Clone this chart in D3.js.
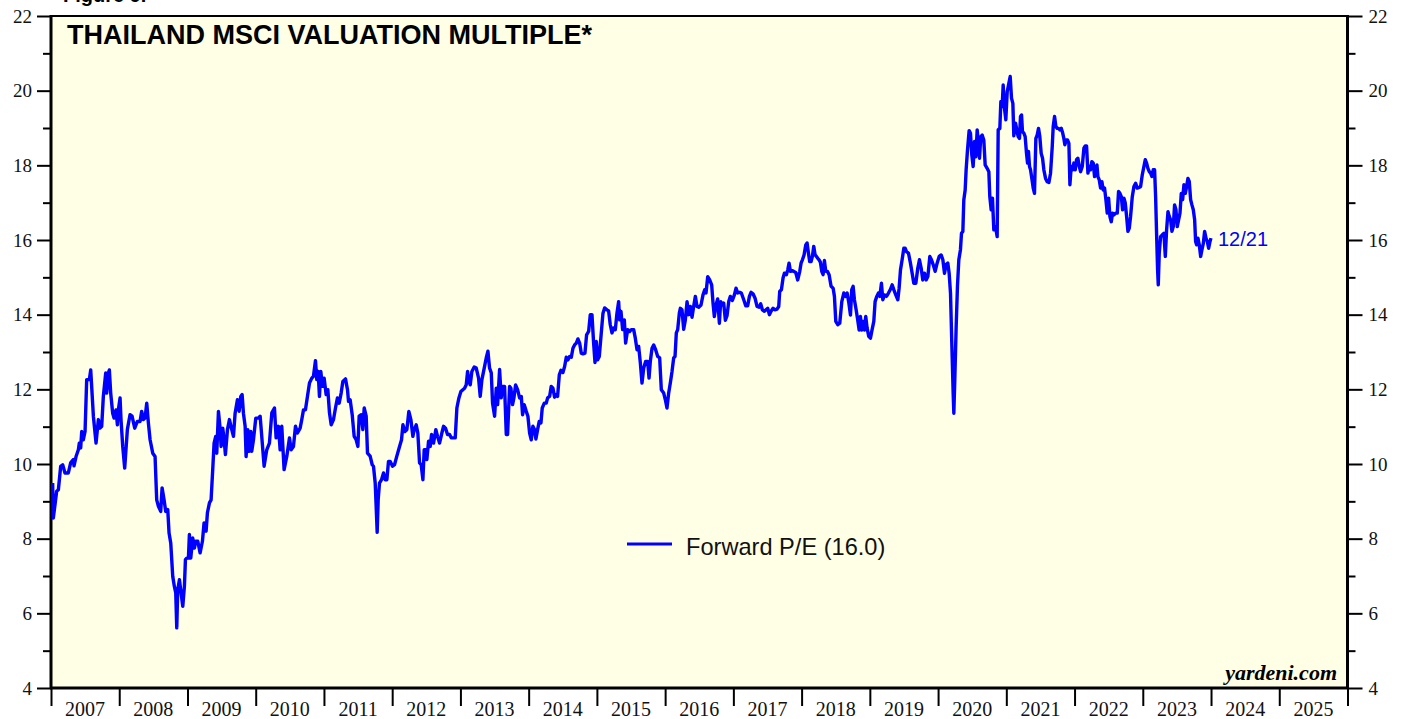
<!DOCTYPE html>
<html>
<head>
<meta charset="utf-8">
<script src="https://cdn.jsdelivr.net/npm/d3@7"></script>
<style>
  html, body { margin: 0; padding: 0; background: #ffffff; }
  svg { display: block; }
</style>
</head>
<body>
<div id="chart"></div>
<script>
// Thailand MSCI forward P/E, weekly-ish readings (decimal year, value)
const peReadings = [
  [2007.024, 9.49], [2007.034, 8.55], [2007.083, 9.27], [2007.108, 9.31], [2007.142, 9.94], [2007.171, 9.98],
  [2007.205, 9.76], [2007.254, 9.76], [2007.288, 10.03], [2007.327, 10.12], [2007.337, 9.95], [2007.367, 10.20],
  [2007.401, 10.38], [2007.415, 10.56], [2007.435, 10.43], [2007.450, 10.87], [2007.474, 10.65], [2007.499, 10.87],
  [2007.523, 12.26], [2007.562, 12.26], [2007.582, 12.52], [2007.596, 12.08], [2007.621, 11.28], [2007.660, 10.56],
  [2007.694, 11.19], [2007.718, 10.96], [2007.743, 11.01], [2007.767, 11.81], [2007.802, 12.44], [2007.816, 11.90],
  [2007.841, 12.44], [2007.855, 12.52], [2007.875, 11.90], [2007.904, 11.36], [2007.924, 11.23], [2007.953, 11.45],
  [2007.973, 11.05], [2007.987, 11.45], [2008.012, 11.77], [2008.026, 11.19], [2008.051, 10.47], [2008.080, 9.89],
  [2008.119, 10.92], [2008.158, 11.32], [2008.188, 11.28], [2008.227, 10.96], [2008.266, 11.14], [2008.305, 11.14],
  [2008.329, 11.41], [2008.354, 11.19], [2008.378, 11.23], [2008.403, 11.63], [2008.427, 11.10], [2008.452, 10.65],
  [2008.491, 10.29], [2008.525, 10.20], [2008.549, 9.04], [2008.574, 8.87], [2008.608, 8.73], [2008.628, 9.36],
  [2008.657, 9.04], [2008.681, 8.73], [2008.711, 8.78], [2008.730, 8.15], [2008.755, 7.88], [2008.784, 6.99],
  [2008.808, 6.72], [2008.828, 6.55], [2008.843, 5.61], [2008.857, 6.63], [2008.882, 6.90], [2008.906, 6.55],
  [2008.931, 6.19], [2008.955, 6.72], [2008.970, 7.44], [2008.989, 7.48], [2009.014, 7.48], [2009.028, 8.11],
  [2009.048, 7.48], [2009.077, 8.02], [2009.102, 7.75], [2009.121, 7.93], [2009.151, 7.93], [2009.185, 7.62],
  [2009.219, 7.93], [2009.243, 8.42], [2009.273, 8.20], [2009.292, 8.69], [2009.322, 8.96], [2009.346, 9.04],
  [2009.370, 9.85], [2009.390, 10.56], [2009.414, 10.74], [2009.429, 10.29], [2009.454, 11.41], [2009.478, 10.96],
  [2009.493, 10.47], [2009.517, 10.96], [2009.537, 10.65], [2009.556, 10.25], [2009.586, 10.92], [2009.615, 11.19],
  [2009.649, 10.92], [2009.674, 10.74], [2009.698, 11.36], [2009.732, 11.72], [2009.757, 11.41], [2009.781, 11.81],
  [2009.801, 11.86], [2009.820, 11.36], [2009.845, 11.01], [2009.859, 10.20], [2009.884, 10.92], [2009.903, 10.34],
  [2009.928, 10.87], [2009.942, 10.34], [2009.967, 10.65], [2010.001, 11.23], [2010.040, 11.23],
  [2010.065, 11.28], [2010.123, 9.94], [2010.162, 10.38], [2010.201, 10.56], [2010.236, 11.37], [2010.275, 11.50],
  [2010.299, 10.70], [2010.333, 11.01], [2010.358, 10.38], [2010.382, 11.01], [2010.416, 9.85], [2010.456, 10.21],
  [2010.495, 10.70], [2010.519, 10.38], [2010.553, 10.47], [2010.583, 11.01], [2010.612, 10.83], [2010.651, 10.96],
  [2010.675, 11.19], [2010.700, 11.45], [2010.729, 11.45], [2010.758, 11.81], [2010.788, 12.17], [2010.822, 12.30],
  [2010.846, 12.35], [2010.876, 12.77], [2010.895, 12.26], [2010.915, 12.48], [2010.934, 11.81], [2010.954, 12.48],
  [2010.978, 12.08], [2011.003, 12.30], [2011.032, 11.86], [2011.057, 11.99], [2011.081, 11.37], [2011.106, 11.05],
  [2011.140, 11.19], [2011.169, 11.50], [2011.198, 11.77], [2011.223, 11.63], [2011.252, 11.90], [2011.277, 12.21],
  [2011.316, 12.28], [2011.345, 11.99], [2011.360, 11.68], [2011.384, 11.72], [2011.414, 11.32], [2011.443, 10.74],
  [2011.472, 10.65], [2011.497, 10.47], [2011.516, 11.28], [2011.546, 11.32], [2011.570, 10.92], [2011.590, 11.50],
  [2011.619, 11.28], [2011.638, 10.29], [2011.677, 10.21], [2011.707, 9.98], [2011.726, 9.94], [2011.751, 9.49],
  [2011.765, 8.87], [2011.780, 8.17], [2011.795, 9.05], [2011.814, 9.49], [2011.844, 9.58], [2011.873, 9.76],
  [2011.897, 9.58], [2011.922, 9.58], [2011.946, 10.07], [2011.971, 10.07], [2012.005, 9.94], [2012.034, 9.98],
  [2012.068, 10.21], [2012.108, 10.47], [2012.137, 10.65], [2012.157, 11.05], [2012.186, 10.87], [2012.215, 10.92],
  [2012.244, 11.41], [2012.274, 11.19], [2012.303, 10.74], [2012.323, 10.92], [2012.352, 11.05], [2012.376, 10.83],
  [2012.401, 10.03], [2012.425, 9.98], [2012.450, 9.58], [2012.469, 10.38], [2012.494, 10.38], [2012.508, 10.12],
  [2012.533, 10.61], [2012.557, 10.47], [2012.577, 10.79], [2012.606, 10.56], [2012.640, 10.92], [2012.665, 10.74],
  [2012.694, 10.56], [2012.728, 10.83], [2012.753, 11.01], [2012.782, 10.96], [2012.811, 10.79], [2012.841, 10.79],
  [2012.865, 10.70], [2012.890, 10.70], [2012.924, 10.70], [2012.948, 11.50], [2012.978, 11.77], [2013.007, 11.94],
  [2013.036, 11.99], [2013.061, 12.03], [2013.085, 12.12], [2013.105, 12.48], [2013.124, 12.21],
  [2013.144, 12.12], [2013.168, 12.48], [2013.202, 12.60], [2013.232, 12.57], [2013.266, 12.30], [2013.290, 11.81],
  [2013.315, 12.26], [2013.349, 12.57], [2013.378, 12.84], [2013.403, 13.02], [2013.427, 12.57], [2013.452, 12.44],
  [2013.471, 11.63], [2013.501, 11.28], [2013.525, 12.03], [2013.545, 11.59], [2013.574, 12.53], [2013.598, 11.77],
  [2013.618, 12.08], [2013.647, 12.08], [2013.672, 10.79], [2013.691, 10.79], [2013.721, 12.08], [2013.740, 12.03],
  [2013.764, 11.59], [2013.784, 11.77], [2013.808, 12.12], [2013.838, 11.99], [2013.867, 11.77], [2013.892, 11.81],
  [2013.911, 11.32], [2013.935, 11.59], [2013.965, 11.41], [2013.989, 11.28], [2014.014, 10.83], [2014.038, 10.65],
  [2014.062, 11.01], [2014.087, 10.92], [2014.106, 10.67], [2014.131, 10.92], [2014.155, 11.14], [2014.180, 11.10],
  [2014.199, 11.50], [2014.229, 11.63], [2014.258, 11.63], [2014.278, 11.77], [2014.307, 11.81], [2014.331, 12.08],
  [2014.356, 12.03], [2014.380, 11.79], [2014.405, 11.86], [2014.424, 11.81], [2014.449, 12.39], [2014.473, 12.51],
  [2014.502, 12.45], [2014.527, 12.61], [2014.551, 12.86], [2014.576, 12.79], [2014.600, 12.88], [2014.625, 12.86],
  [2014.649, 13.10], [2014.673, 13.19], [2014.698, 13.24], [2014.722, 13.35], [2014.747, 13.24], [2014.771, 12.97],
  [2014.796, 12.95], [2014.825, 12.97], [2014.849, 13.46], [2014.879, 13.55], [2014.903, 14.00], [2014.928, 14.00],
  [2014.952, 13.24], [2014.972, 12.72], [2014.991, 13.28], [2015.011, 12.79], [2015.035, 12.88], [2015.060, 13.42],
  [2015.089, 14.04], [2015.113, 14.18], [2015.148, 14.13], [2015.172, 14.10], [2015.196, 13.73], [2015.221, 13.51],
  [2015.245, 13.64], [2015.270, 13.60], [2015.294, 14.04], [2015.319, 14.35], [2015.333, 13.86], [2015.353, 14.09],
  [2015.377, 13.60], [2015.402, 13.86], [2015.421, 13.24], [2015.451, 13.60], [2015.480, 13.55], [2015.505, 13.60],
  [2015.539, 13.60], [2015.563, 13.37], [2015.588, 13.06], [2015.612, 13.15], [2015.637, 12.70], [2015.661, 12.17],
  [2015.686, 12.57], [2015.715, 12.75], [2015.744, 12.75], [2015.764, 12.30], [2015.783, 12.75], [2015.808, 13.10],
  [2015.832, 13.19], [2015.861, 13.06], [2015.891, 12.88], [2015.920, 12.84], [2015.944, 11.99], [2015.979, 11.90],
  [2016.003, 11.72], [2016.027, 11.50], [2016.052, 11.90], [2016.076, 12.17], [2016.101, 12.48], [2016.125, 12.84],
  [2016.145, 12.88], [2016.164, 13.51], [2016.184, 13.60], [2016.208, 14.04],
  [2016.223, 14.17], [2016.247, 14.13], [2016.272, 13.61], [2016.296, 13.86], [2016.321, 14.35], [2016.345, 14.00],
  [2016.370, 14.22], [2016.394, 13.93], [2016.418, 14.22], [2016.443, 14.49], [2016.467, 14.22], [2016.492, 14.20],
  [2016.526, 14.26], [2016.555, 14.53], [2016.580, 14.67], [2016.599, 14.58], [2016.624, 15.02], [2016.653, 14.93],
  [2016.682, 14.80], [2016.702, 14.31], [2016.721, 13.95], [2016.746, 14.26], [2016.770, 14.42], [2016.795, 13.77],
  [2016.814, 14.35], [2016.839, 14.26], [2016.858, 14.31], [2016.883, 13.85], [2016.907, 13.97], [2016.932, 14.35],
  [2016.956, 14.49], [2016.985, 14.38], [2017.015, 14.53], [2017.039, 14.71], [2017.064, 14.58], [2017.093, 14.60],
  [2017.117, 14.58], [2017.152, 14.40], [2017.181, 14.24], [2017.210, 14.24], [2017.235, 14.49], [2017.259, 14.60],
  [2017.288, 14.56], [2017.318, 14.44], [2017.347, 14.22], [2017.376, 14.20], [2017.401, 14.29], [2017.425, 14.13],
  [2017.455, 14.09], [2017.479, 14.13], [2017.504, 14.17], [2017.528, 14.00], [2017.552, 14.09], [2017.582, 14.17],
  [2017.606, 14.13], [2017.640, 14.15], [2017.665, 14.22], [2017.679, 14.62], [2017.704, 14.67], [2017.728, 14.98],
  [2017.748, 15.11], [2017.777, 15.07], [2017.797, 15.20], [2017.816, 15.38], [2017.836, 15.16], [2017.860, 15.18],
  [2017.885, 15.16], [2017.914, 15.13], [2017.943, 14.93], [2017.973, 15.16], [2017.992, 15.38], [2018.012, 15.47],
  [2018.036, 15.60], [2018.061, 15.87], [2018.080, 15.92], [2018.100, 15.65], [2018.119, 15.42], [2018.139, 15.42],
  [2018.158, 15.56], [2018.178, 15.83], [2018.198, 15.60], [2018.217, 15.56], [2018.237, 15.51], [2018.256, 15.47],
  [2018.276, 15.40], [2018.295, 15.16], [2018.315, 15.07], [2018.334, 15.45], [2018.354, 15.16], [2018.378, 15.16],
  [2018.403, 15.07], [2018.432, 14.76], [2018.462, 14.71], [2018.481, 14.49], [2018.501, 13.82], [2018.530, 13.73],
  [2018.559, 13.77], [2018.589, 14.35], [2018.618, 14.58], [2018.642, 14.49], [2018.667, 14.58], [2018.691, 14.33],
  [2018.716, 13.99], [2018.735, 14.67], [2018.755, 14.76], [2018.774, 14.40], [2018.799, 14.13], [2018.818, 13.91],
  [2018.843, 13.59], [2018.862, 13.95], [2018.882, 13.59], [2018.901, 13.82], [2018.921, 13.59], [2018.940, 13.95],
  [2018.960, 13.64], [2018.984, 13.42], [2019.009, 13.37], [2019.033, 13.60], [2019.058, 13.82], [2019.077, 14.35],
  [2019.102, 14.49], [2019.126, 14.58], [2019.146, 14.49], [2019.170, 14.84], [2019.190, 14.40], [2019.214, 14.53],
  [2019.244, 14.49], [2019.273, 14.58], [2019.302, 14.68], [2019.327, 14.80], [2019.351, 14.67], [2019.380, 14.53],
  [2019.410, 14.40], [2019.429, 14.71], [2019.449, 15.20], [2019.473, 15.47], [2019.498, 15.78], [2019.517, 15.78],
  [2019.537, 15.69], [2019.566, 15.65], [2019.595, 15.38], [2019.620, 15.11], [2019.644, 14.84], [2019.674, 14.84],
  [2019.703, 15.25], [2019.727, 15.47], [2019.752, 15.25], [2019.776, 14.93], [2019.801, 15.11], [2019.825, 14.93],
  [2019.850, 15.02], [2019.879, 15.56], [2019.903, 15.47], [2019.928, 15.34], [2019.957, 15.16], [2019.986, 15.38],
  [2020.016, 15.56], [2020.045, 15.60], [2020.070, 15.47], [2020.094, 15.11], [2020.118, 15.34], [2020.143, 15.38],
  [2020.162, 15.11], [2020.182, 14.58], [2020.201, 13.24], [2020.221, 11.90], [2020.231, 11.36], [2020.245, 12.26],
  [2020.265, 13.68], [2020.284, 14.76], [2020.304, 15.47], [2020.328, 15.74], [2020.343, 16.18], [2020.363, 16.23],
  [2020.377, 17.07], [2020.397, 17.34], [2020.411, 17.88], [2020.431, 18.41], [2020.455, 18.93], [2020.475, 18.86],
  [2020.494, 18.28], [2020.514, 17.97], [2020.534, 18.64], [2020.553, 18.23], [2020.573, 18.95], [2020.587, 18.68],
  [2020.607, 18.19], [2020.626, 18.77], [2020.646, 18.81], [2020.670, 18.68], [2020.690, 18.01], [2020.719, 17.92],
  [2020.744, 17.83], [2020.758, 17.16], [2020.778, 16.81], [2020.797, 17.12], [2020.817, 16.27], [2020.841, 16.36],
  [2020.866, 16.09], [2020.881, 18.95], [2020.905, 18.99], [2020.920, 19.71], [2020.939, 19.57], [2020.954, 20.15],
  [2020.973, 19.53], [2020.993, 19.22], [2021.013, 19.97], [2021.037, 20.20], [2021.057, 20.38], [2021.076, 19.80],
  [2021.096, 19.66], [2021.110, 18.79], [2021.135, 19.13], [2021.154, 18.95], [2021.174, 18.77], [2021.193, 18.72],
  [2021.208, 19.31], [2021.223, 19.35], [2021.237, 18.90], [2021.257, 18.86], [2021.276, 18.77], [2021.296, 18.32],
  [2021.311, 18.06], [2021.325, 18.37], [2021.340, 17.97], [2021.355, 17.88], [2021.374, 17.65], [2021.394, 17.39],
  [2021.413, 17.25], [2021.433, 18.72], [2021.452, 18.81], [2021.472, 18.99], [2021.491, 18.77], [2021.511, 18.32],
  [2021.531, 18.19], [2021.550, 17.88], [2021.575, 17.65], [2021.599, 17.56], [2021.624, 17.54], [2021.648, 17.79],
  [2021.673, 18.50], [2021.687, 19.04], [2021.707, 19.31], [2021.726, 19.04], [2021.746, 18.99], [2021.765, 18.99],
  [2021.785, 18.95], [2021.805, 18.99], [2021.824, 18.88], [2021.843, 18.72], [2021.858, 18.55], [2021.878, 18.68],
  [2021.897, 18.68], [2021.917, 18.59], [2021.932, 17.48], [2021.951, 17.97], [2021.971, 17.88], [2021.990, 18.06],
  [2022.010, 17.88], [2022.029, 18.15], [2022.049, 18.19], [2022.069, 17.97], [2022.088, 17.83], [2022.113, 17.97],
  [2022.137, 18.46], [2022.157, 18.52], [2022.176, 18.52], [2022.196, 17.79], [2022.215, 17.97], [2022.235, 17.88],
  [2022.254, 18.10], [2022.274, 18.06], [2022.293, 17.70], [2022.313, 17.79], [2022.328, 18.01], [2022.342, 17.70],
  [2022.362, 17.61], [2022.381, 17.39], [2022.401, 17.56], [2022.420, 17.34], [2022.440, 17.39], [2022.460, 17.07],
  [2022.479, 16.72], [2022.499, 17.12], [2022.518, 16.63], [2022.538, 16.49], [2022.557, 16.72], [2022.577, 16.67],
  [2022.601, 16.72], [2022.626, 16.72], [2022.645, 17.30], [2022.665, 17.25], [2022.685, 17.16], [2022.704, 16.81],
  [2022.724, 17.12], [2022.743, 16.99], [2022.763, 16.63], [2022.782, 16.23], [2022.802, 16.32], [2022.821, 16.63],
  [2022.846, 17.16], [2022.870, 17.43], [2022.895, 17.52], [2022.919, 17.39],
  [2022.968, 17.43], [2022.992, 17.74], [2023.017, 17.97], [2023.036, 18.15], [2023.056, 18.06], [2023.075, 17.92],
  [2023.095, 17.83], [2023.114, 17.79], [2023.134, 17.70], [2023.153, 17.88], [2023.173, 17.88], [2023.188, 17.16],
  [2023.202, 16.18], [2023.217, 15.20], [2023.227, 14.80], [2023.241, 15.65], [2023.261, 16.09], [2023.286, 16.14],
  [2023.310, 16.18], [2023.330, 15.56], [2023.349, 16.27], [2023.369, 16.76], [2023.388, 16.63], [2023.408, 16.54],
  [2023.427, 16.23], [2023.447, 16.36], [2023.466, 16.94], [2023.486, 16.81], [2023.505, 16.36], [2023.525, 16.54],
  [2023.545, 16.72], [2023.564, 17.25], [2023.584, 17.08], [2023.603, 17.48], [2023.623, 17.25], [2023.642, 17.43],
  [2023.662, 17.65], [2023.681, 17.57], [2023.701, 17.08], [2023.720, 16.94], [2023.740, 16.81], [2023.760, 16.54],
  [2023.774, 15.96], [2023.789, 15.87], [2023.808, 16.05], [2023.828, 15.87], [2023.848, 15.56], [2023.867, 15.74],
  [2023.887, 15.91], [2023.906, 16.23], [2023.926, 16.05], [2023.945, 15.96], [2023.965, 15.78], [2023.985, 15.96],
  [2023.999, 16.05]
];

const yearLabels = d3.range(2007, 2026);
const yMajorTicks = d3.range(4, 23, 2);
const yMinorTicks = d3.range(5, 22, 2);
const titleText = "THAILAND MSCI VALUATION MULTIPLE*";
const legendText = "Forward P/E (16.0)";
const lastDateText = "12/21";

const width = 1407, height = 719;
const margin = { top: 16, right: 59.5, bottom: 31, left: 51 };

const svg = d3.select("#chart").append("svg")
    .attr("width", width)
    .attr("height", height);

const x = d3.scaleLinear().domain([2007, 2026]).range([margin.left, width - margin.right]);
const y = d3.scaleLinear().domain([4, 22]).range([height - margin.bottom, margin.top]);

// figure caption, mostly above the picture's top edge as in the original
svg.append("text")
    .attr("x", 63)
    .attr("y", 2)
    .style("font-family", "'Liberation Sans', Arial, sans-serif")
    .style("font-weight", "bold")
    .style("font-size", "20px")
    .text("Figure 9.");

// plot background
svg.append("rect")
    .attr("x", margin.left)
    .attr("y", margin.top)
    .attr("width", width - margin.left - margin.right)
    .attr("height", height - margin.top - margin.bottom)
    .attr("fill", "#ffffe5");

const serif = "'Liberation Serif', 'Times New Roman', serif";
const sans = "'Liberation Sans', Arial, sans-serif";

function styleAxis(g) {
    g.select(".domain").remove();
    g.selectAll(".tick line").attr("stroke", "#000").attr("stroke-width", 2);
    g.selectAll(".tick text")
        .style("font-family", serif)
        .style("font-size", "19px")
        .attr("fill", "#111");
}

// left axis
svg.append("g")
    .attr("transform", `translate(${margin.left},0)`)
    .call(d3.axisLeft(y).tickValues(yMajorTicks).tickSize(14).tickPadding(5).tickFormat(d3.format("d")))
    .call(styleAxis);
svg.append("g")
    .attr("transform", `translate(${margin.left},0)`)
    .call(d3.axisLeft(y).tickValues(yMinorTicks).tickSize(8).tickFormat(""))
    .call(styleAxis);

// right axis
svg.append("g")
    .attr("transform", `translate(${width - margin.right},0)`)
    .call(d3.axisRight(y).tickValues(yMajorTicks).tickSize(15).tickPadding(6).tickFormat(d3.format("d")))
    .call(styleAxis);
svg.append("g")
    .attr("transform", `translate(${width - margin.right},0)`)
    .call(d3.axisRight(y).tickValues(yMinorTicks).tickSize(8).tickFormat(""))
    .call(styleAxis);

// bottom axis: year boundaries as ticks, labels centred in each year
svg.append("g")
    .attr("transform", `translate(0,${height - margin.bottom})`)
    .call(d3.axisBottom(x).tickValues(d3.range(2007, 2027)).tickSize(18).tickFormat(""))
    .call(styleAxis);

svg.append("g").selectAll("text")
    .data(yearLabels)
    .enter().append("text")
    .attr("x", d => x(d + 0.5))
    .attr("y", 716)
    .attr("text-anchor", "middle")
    .style("font-family", serif)
    .style("font-size", "20px")
    .attr("fill", "#111")
    .text(d => d);

// frame
const frame = svg.append("g").attr("stroke", "#000").attr("fill", "none");
frame.append("line")
    .attr("x1", margin.left).attr("x2", width - margin.right)
    .attr("y1", margin.top).attr("y2", margin.top)
    .attr("stroke-width", 2);
frame.append("line")
    .attr("x1", margin.left - 1).attr("x2", width - margin.right + 1)
    .attr("y1", y(4)).attr("y2", y(4))
    .attr("stroke-width", 3);
frame.append("line")
    .attr("x1", margin.left).attr("x2", margin.left)
    .attr("y1", margin.top - 1).attr("y2", y(4) + 1)
    .attr("stroke-width", 3);
frame.append("line")
    .attr("x1", width - margin.right).attr("x2", width - margin.right)
    .attr("y1", margin.top - 1).attr("y2", y(4) + 1)
    .attr("stroke-width", 3);

// title
svg.append("text")
    .attr("x", 67)
    .attr("y", 44)
    .style("font-family", sans)
    .style("font-weight", "bold")
    .style("font-size", "27px")
    .attr("fill", "#000")
    .text(titleText);

// data line
const line = d3.line()
    .x(d => x(d[0]))
    .y(d => y(d[1]));

svg.append("path")
    .datum(peReadings)
    .attr("d", line)
    .attr("fill", "none")
    .attr("stroke", "#0000ff")
    .attr("stroke-width", 3.4)
    .attr("stroke-linejoin", "round");

// last date label
const last = peReadings[peReadings.length - 1];
svg.append("text")
    .attr("x", x(last[0]) + 7)
    .attr("y", y(last[1]) + 8)
    .style("font-family", sans)
    .style("font-size", "20px")
    .attr("fill", "#0000ff")
    .text(lastDateText);

// legend
svg.append("line")
    .attr("x1", 627).attr("x2", 672)
    .attr("y1", 544).attr("y2", 544)
    .attr("stroke", "#0000ff")
    .attr("stroke-width", 3);
svg.append("text")
    .attr("x", 686)
    .attr("y", 555)
    .style("font-family", sans)
    .style("font-size", "23.6px")
    .attr("fill", "#111")
    .text(legendText);

// source
svg.append("text")
    .attr("x", 1337)
    .attr("y", 680)
    .attr("text-anchor", "end")
    .style("font-family", serif)
    .style("font-weight", "bold")
    .style("font-style", "italic")
    .style("font-size", "22px")
    .attr("fill", "#000")
    .text("yardeni.com");
</script>
</body>
</html>
